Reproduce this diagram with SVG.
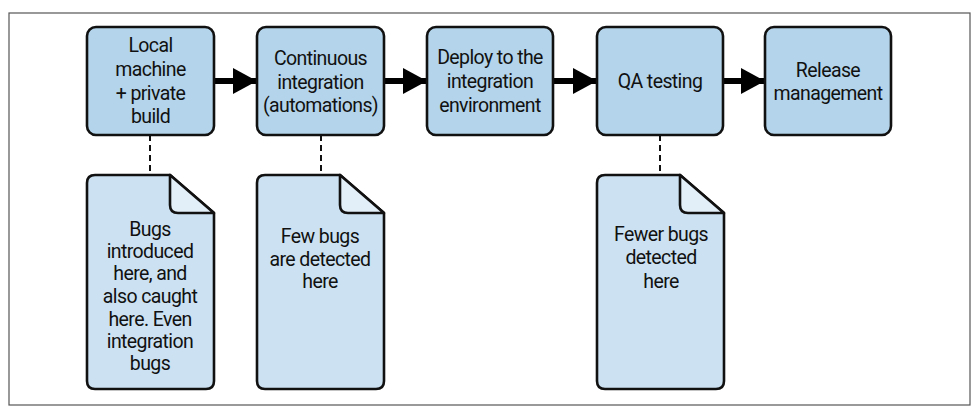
<svg xmlns="http://www.w3.org/2000/svg" width="978" height="415" viewBox="0 0 978 415">
<defs>
<style>
.frame{fill:#fff;stroke:#555;stroke-width:1.2}
.box{fill:#b3d4ea;stroke:#111;stroke-width:2.6}
.doc{fill:#cce2f2;stroke:#111;stroke-width:2.6;stroke-linejoin:round}
.fold{fill:#e2eef8;stroke:#111;stroke-width:2.6;stroke-linejoin:round}
.t{font-family:Roboto,"Liberation Sans",sans-serif;font-size:19.5px;fill:#111;text-anchor:middle;letter-spacing:-0.6px}
.flow{stroke:#000;stroke-width:6;fill:none}
.dash{stroke:#111;stroke-width:2;stroke-dasharray:6,4;fill:none}
</style>
<marker id="ah" viewBox="0 0 24 26" refX="24" refY="13" markerWidth="24" markerHeight="26" markerUnits="userSpaceOnUse" orient="auto">
<path d="M0,0 L24,13 L0,26 Z" fill="#000"/>
</marker>
<path id="docshape" d="M8,0 L83,0 L127,38 L127,206 Q127,214 119,214 L8,214 Q0,214 0,206 L0,8 Q0,0 8,0 Z"/>
<path id="foldshape" d="M83,0 L83,30 Q83,38 91,38 L127,38 Z"/>
</defs>
<rect class="frame" x="9" y="13" width="961" height="392"/>
<g id="connectors">
<line class="flow" x1="214" y1="81" x2="257" y2="81" marker-end="url(#ah)"/>
<line class="flow" x1="384" y1="81" x2="427" y2="81" marker-end="url(#ah)"/>
<line class="flow" x1="553" y1="81" x2="597" y2="81" marker-end="url(#ah)"/>
<line class="flow" x1="723" y1="81" x2="765" y2="81" marker-end="url(#ah)"/>
<line class="dash" x1="150" y1="135" x2="150" y2="175"/>
<line class="dash" x1="321" y1="135" x2="321" y2="175"/>
<line class="dash" x1="660" y1="135" x2="660" y2="175"/>
</g>
<g id="local">
<rect class="box" x="87" y="27" width="127" height="108" rx="9"/>
<text class="t" x="150.5"><tspan x="150.5" y="52">Local</tspan><tspan x="150.5" y="76">machine</tspan><tspan x="150.5" y="100">+ private</tspan><tspan x="150.5" y="123">build</tspan></text>
</g>
<g id="ci">
<rect class="box" x="257" y="27" width="127" height="108" rx="9"/>
<text class="t" x="320.5"><tspan x="320.5" y="65">Continuous</tspan><tspan x="320.5" y="89">integration</tspan><tspan x="320.5" y="112">(automations)</tspan></text>
</g>
<g id="deploy">
<rect class="box" x="427" y="27" width="126" height="108" rx="9"/>
<text class="t" x="490"><tspan x="490" y="64">Deploy to the</tspan><tspan x="490" y="88">integration</tspan><tspan x="490" y="112">environment</tspan></text>
</g>
<g id="qa">
<rect class="box" x="597" y="27" width="126" height="108" rx="9"/>
<text class="t" x="660" y="88">QA testing</text>
</g>
<g id="release">
<rect class="box" x="765" y="27" width="126" height="108" rx="9"/>
<text class="t" x="828"><tspan x="828" y="77">Release</tspan><tspan x="828" y="100">management</tspan></text>
</g>
<g id="doc1" transform="translate(87,175)">
<use href="#docshape" class="doc"/>
<use href="#foldshape" class="fold"/>
<text class="t"><tspan x="63" y="61">Bugs</tspan><tspan x="63" y="83">introduced</tspan><tspan x="63" y="105">here, and</tspan><tspan x="63" y="128">also caught</tspan><tspan x="63" y="151">here. Even</tspan><tspan x="63" y="173">integration</tspan><tspan x="63" y="195">bugs</tspan></text>
</g>
<g id="doc2" transform="translate(257,175)">
<use href="#docshape" class="doc"/>
<use href="#foldshape" class="fold"/>
<text class="t"><tspan x="63" y="68">Few bugs</tspan><tspan x="63" y="91">are detected</tspan><tspan x="63" y="113">here</tspan></text>
</g>
<g id="doc3" transform="translate(597,175)">
<use href="#docshape" class="doc"/>
<use href="#foldshape" class="fold"/>
<text class="t"><tspan x="64" y="66">Fewer bugs</tspan><tspan x="64" y="89">detected</tspan><tspan x="64" y="113">here</tspan></text>
</g>
</svg>
